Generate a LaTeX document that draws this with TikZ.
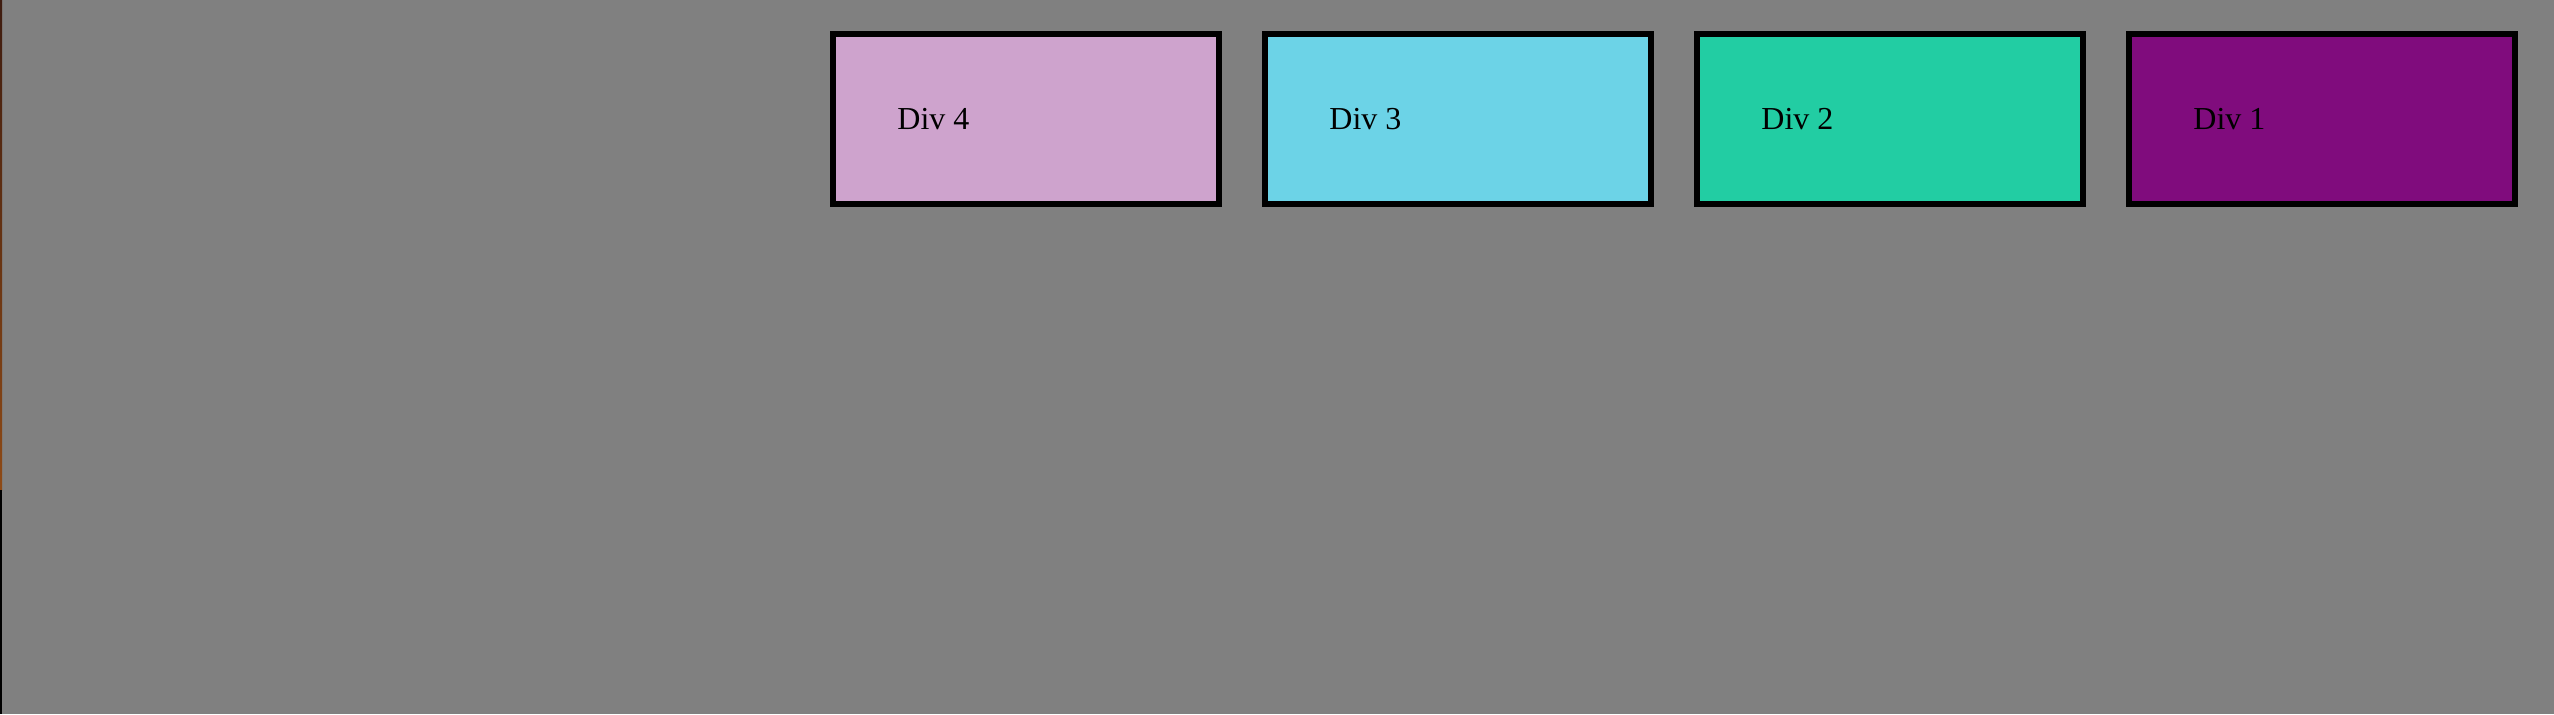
\documentclass[tikz,border=0pt]{standalone}
\usepackage{fontspec}
\setmainfont{Liberation Serif}
\usetikzlibrary{positioning}

\definecolor{pagegray}{HTML}{808080}
\definecolor{edgetop}{HTML}{3E1C10}
\definecolor{edgelow}{HTML}{8E4A16}
\definecolor{divfour}{HTML}{CEA3CD}
\definecolor{divthree}{HTML}{6CD3E7}
\definecolor{divtwo}{HTML}{22CDA3}
\definecolor{divone}{HTML}{800C7D}

\tikzset{
  divbox/.style={draw=black, line width=3pt, minimum width=193pt, minimum height=85pt, inner sep=0pt},
  divlabel/.style={anchor=base west, inner sep=0pt, font=\fontsize{16}{19}\selectfont}
}

\begin{document}
\begin{tikzpicture}[x=0.5pt,y=-0.5pt]
		\fill[pagegray] (0,0) rectangle (2554,714);
		\useasboundingbox (0,0) rectangle (2554,714);
		
		\shade[top color=edgetop, bottom color=edgelow] (0,0) rectangle (2,490);
		\fill[black] (0,490) rectangle (2,714);
		
		\node[divbox, fill=divfour] (div4) at (1026,119) {};
		\node[divbox, fill=divthree, right=20pt of div4] (div3) {};
		\node[divbox, fill=divtwo, right=20pt of div3] (div2) {};
		\node[divbox, fill=divone, right=20pt of div2] (div1) {};
		
		\node[divlabel] (lab4) at ([xshift=33.5pt,yshift=-5pt]div4.west) {Div 4};
		\node[divlabel] (lab3) at ([xshift=33.5pt,yshift=-5pt]div3.west) {Div 3};
		\node[divlabel] (lab2) at ([xshift=33.5pt,yshift=-5pt]div2.west) {Div 2};
		\node[divlabel] (lab1) at ([xshift=33.5pt,yshift=-5pt]div1.west) {Div 1};
	\end{tikzpicture}
\end{document}
